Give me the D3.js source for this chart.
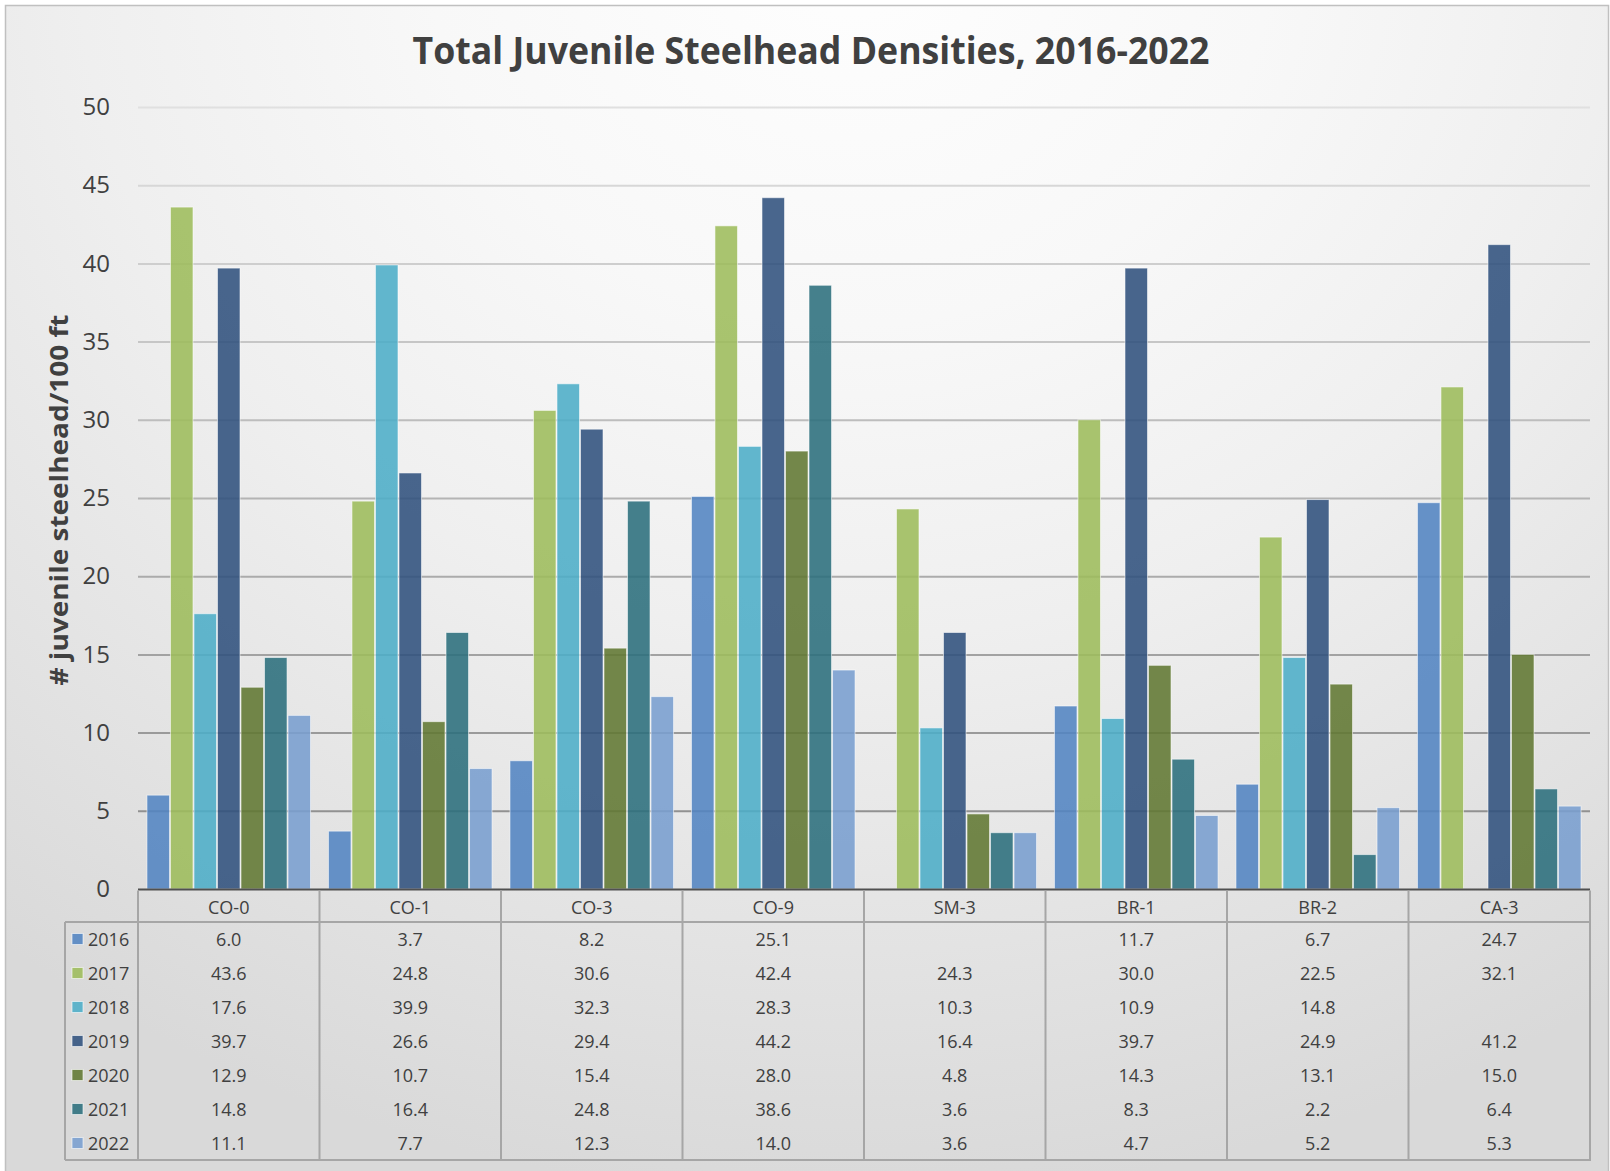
<!DOCTYPE html>
<html>
<head>
<meta charset="utf-8">
<script src="https://cdn.jsdelivr.net/npm/d3@7"></script>
<style>
html,body{margin:0;padding:0;background:#fff;}
svg{display:block;}
text{font-family:"Open Sans","Noto Sans",sans-serif;fill:#404040;}
</style>
</head>
<body>
<svg id="chart" width="1610" height="1171"></svg>
<script>
const titleText = "Total Juvenile Steelhead Densities, 2016-2022";
const yAxisTitle = "# juvenile steelhead/100 ft";
const categories = ["CO-0","CO-1","CO-3","CO-9","SM-3","BR-1","BR-2","CA-3"];
const years = ["2016","2017","2018","2019","2020","2021","2022"];
const v2016 = [6.0, 3.7, 8.2, 25.1, null, 11.7, 6.7, 24.7];
const v2017 = [43.6, 24.8, 30.6, 42.4, 24.3, 30.0, 22.5, 32.1];
const v2018 = [17.6, 39.9, 32.3, 28.3, 10.3, 10.9, 14.8, null];
const v2019 = [39.7, 26.6, 29.4, 44.2, 16.4, 39.7, 24.9, 41.2];
const v2020 = [12.9, 10.7, 15.4, 28.0, 4.8, 14.3, 13.1, 15.0];
const v2021 = [14.8, 16.4, 24.8, 38.6, 3.6, 8.3, 2.2, 6.4];
const v2022 = [11.1, 7.7, 12.3, 14.0, 3.6, 4.7, 5.2, 5.3];
const yTicks = [0, 5, 10, 15, 20, 25, 30, 35, 40, 45, 50];
const colors = ["#5284c1", "#9dbc5b", "#4cadc7", "#30517d", "#617732", "#2b6e7c", "#799ecf"];

const seriesValues = [v2016, v2017, v2018, v2019, v2020, v2021, v2022];
const series = years.map((yr, i) => ({year: yr, color: colors[i], values: seriesValues[i]}));

const svg = d3.select("#chart");
const plotLeft = 138, plotRight = 1590, plotTop = 107, plotBottom = 889;
const tableTop = plotBottom, headerBottom = 922, tableBottom = 1160, legendLeft = 65;
const rowH = (tableBottom - headerBottom) / years.length;

// background
const defs = svg.append("defs");
const rg = defs.append("radialGradient").attr("id", "bg")
  .attr("gradientUnits", "userSpaceOnUse")
  .attr("cx", 850).attr("cy", -50).attr("r", 1250)
  .attr("gradientTransform", "translate(850,-50) scale(1.12,1) translate(-850,50)");
[[0, "#fefefe"], [0.3, "#f8f8f8"], [0.55, "#efefef"], [0.8, "#e3e3e3"], [1, "#d9d9d9"]]
  .forEach(s => rg.append("stop").attr("offset", s[0]).attr("stop-color", s[1]));
svg.append("rect").attr("x", 5.5).attr("y", 5.5).attr("width", 1603).attr("height", 1200)
  .attr("fill", "url(#bg)").attr("stroke", "#c0c0c0").attr("stroke-width", 1.5);

// scales
const y = d3.scaleLinear().domain([0, 50]).range([plotBottom, plotTop]);
const x0 = d3.scaleBand().domain(categories).range([plotLeft, plotRight]).padding(0);
const x1 = d3.scaleBand().domain(years).range([0, x0.bandwidth()]).paddingInner(0).paddingOuter(0.36);
const gridColor = d3.scaleLinear().domain([0, 50]).range(["#888888", "#e0e0e0"]);

// y axis with gridlines
const yAxis = svg.append("g").attr("transform", `translate(${plotLeft},0)`)
  .call(d3.axisLeft(y).tickValues(yTicks).tickSizeInner(-(plotRight - plotLeft)).tickSizeOuter(0).tickPadding(28));
yAxis.select(".domain").remove();
yAxis.selectAll(".tick line")
  .attr("stroke", d => gridColor(d)).attr("stroke-width", 2)
  .style("display", d => d === 0 ? "none" : null);
yAxis.selectAll(".tick text")
  .attr("fill", "#404040").style("font-size", "24px")
  .style("font-family", "'Open Sans','Noto Sans',sans-serif");

// bars
const groups = svg.append("g").selectAll("g").data(series).join("g")
  .attr("fill", d => d.color);
groups.selectAll("rect")
  .data(d => d.values.map((v, i) => ({cat: categories[i], v, year: d.year})).filter(e => e.v != null))
  .join("rect")
  .attr("x", d => x0(d.cat) + x1(d.year) + 0.5)
  .attr("width", x1.bandwidth() - 1)
  .attr("y", d => y(d.v))
  .attr("height", d => y(0) - y(d.v))
  .attr("fill-opacity", 0.88)
  .attr("stroke", "rgba(255,255,255,0.55)").attr("stroke-width", 1);

// category axis line
svg.append("line").attr("x1", plotLeft).attr("x2", plotRight)
  .attr("y1", plotBottom + 0.5).attr("y2", plotBottom + 0.5)
  .attr("stroke", "#505050").attr("stroke-width", 2);

// data table
const tbl = svg.append("g");
const border = "#a6a6a6";
const bounds = categories.map(c => x0(c)).concat([plotRight]);
tbl.selectAll("line.v").data(bounds).join("line").attr("class", "v")
  .attr("x1", d => d).attr("x2", d => d)
  .attr("y1", tableTop + 1.5).attr("y2", tableBottom)
  .attr("stroke", border).attr("stroke-width", 2);
tbl.append("line").attr("x1", legendLeft).attr("x2", plotRight).attr("y1", headerBottom).attr("y2", headerBottom)
  .attr("stroke", border).attr("stroke-width", 2);
tbl.append("line").attr("x1", legendLeft).attr("x2", plotRight + 1).attr("y1", tableBottom).attr("y2", tableBottom)
  .attr("stroke", border).attr("stroke-width", 2);
tbl.append("line").attr("x1", legendLeft).attr("x2", legendLeft).attr("y1", headerBottom).attr("y2", tableBottom)
  .attr("stroke", border).attr("stroke-width", 2);

tbl.selectAll("text.cat").data(categories).join("text").attr("class", "cat")
  .attr("x", d => x0(d) + x0.bandwidth() / 2)
  .attr("y", (tableTop + headerBottom) / 2 + 1)
  .attr("text-anchor", "middle").attr("dominant-baseline", "central")
  .style("font-size", "18px").text(d => d);

const rows = tbl.selectAll("g.row").data(series).join("g").attr("class", "row")
  .attr("transform", (d, i) => `translate(0,${headerBottom + rowH * (i + 0.5)})`);
rows.append("rect").attr("x", 72).attr("y", -5.5).attr("width", 11).attr("height", 11)
  .attr("fill", d => d.color).attr("fill-opacity", 0.88)
  .attr("stroke", "rgba(255,255,255,0.6)").attr("stroke-width", 1);
rows.append("text").attr("x", 88).attr("y", 0).attr("dominant-baseline", "central")
  .style("font-size", "18px").text(d => d.year);
rows.selectAll("text.val")
  .data(d => d.values.map((v, i) => ({cat: categories[i], v})))
  .join("text").attr("class", "val")
  .attr("x", d => x0(d.cat) + x0.bandwidth() / 2)
  .attr("y", 0).attr("text-anchor", "middle").attr("dominant-baseline", "central")
  .style("font-size", "18px")
  .text(d => d.v == null ? "" : d3.format(".1f")(d.v));

svg.append("text").attr("x", 811).attr("y", 64).attr("text-anchor", "middle")
  .attr("textLength", 797).attr("lengthAdjust", "spacingAndGlyphs")
  .style("font-size", "37px").style("font-weight", "700").text(titleText);

svg.append("text").attr("transform", "translate(58,500) rotate(-90)")
  .attr("text-anchor", "middle").attr("dominant-baseline", "central")
  .attr("textLength", 371).attr("lengthAdjust", "spacingAndGlyphs")
  .style("font-size", "25px").style("font-weight", "700").text(yAxisTitle);
</script>
</body>
</html>
